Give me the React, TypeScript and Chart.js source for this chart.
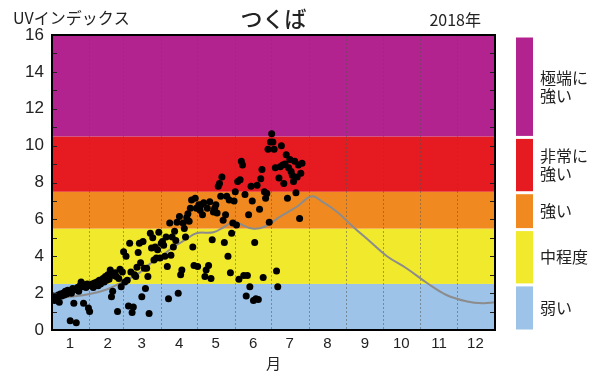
import React, { useEffect, useRef } from 'react';
import { Chart, registerables } from 'chart.js';

Chart.register(...registerables);

const monthLabels = ['1', '2', '3', '4', '5', '6', '7', '8', '9', '10', '11', '12'];
const monthStartDays = [0, 31, 59, 90, 120, 151, 181, 212, 243, 273, 304, 334];

const dotDay = [
  0, 1, 2, 3, 4, 5, 6, 7, 8, 9, 10, 11, 12, 13, 14, 15, 16, 17, 18, 19, 20, 21, 22, 23, 24, 25, 26, 27, 28, 29, 30,
  31, 32, 33, 34, 35, 36, 37, 38, 39, 40, 41, 42, 43, 44, 45, 46, 47, 48, 49, 50, 51, 52, 53, 54, 55, 56, 57, 58,
  59, 60, 61, 62, 63, 64, 65, 66, 67, 68, 69, 70, 71, 72, 73, 74, 75, 76, 77, 78, 79, 80, 81, 82, 83, 84, 85, 86, 87, 88, 89,
  90, 91, 92, 93, 94, 95, 96, 97, 98, 99, 100, 101, 102, 103, 104, 105, 106, 107, 108, 109, 110, 111, 112, 113, 114, 115, 116, 117, 118, 119,
  120, 121, 122, 123, 124, 125, 126, 127, 128, 129, 130, 131, 132, 133, 134, 135, 136, 137, 138, 139, 140, 141, 142, 143, 144, 145, 146, 147, 148, 149, 150,
  151, 152, 153, 154, 155, 156, 157, 158, 159, 160, 161, 162, 163, 164, 165, 166, 167, 168, 169, 170, 171, 172, 173, 174, 175, 176, 177, 178, 179, 180,
  181, 182, 183, 184, 185, 186, 187, 188, 189, 190, 191, 192, 193, 194, 195, 196, 197, 198, 199, 200, 201, 202, 203, 204, 205, 206,
];
const dotUV = [
  1.7, 1.85, 1.6, 1.8, 1.75, 1.9, 1.5, 1.95, 1.85, 2.0, 1.9, 2.1, 1.95, 2.15, 2.05, 0.5, 2.0, 2.25, 1.45, 2.2, 0.4, 2.3, 2.1, 2.4, 2.6, 2.35, 1.45, 2.45, 2.3, 2.5, 1.2,
  1.0, 2.4, 2.5, 2.3, 2.55, 2.45, 2.6, 2.4, 2.7, 2.5, 2.65, 2.8, 2.6, 2.9, 2.7, 3.0, 2.75, 3.25, 1.8, 2.1, 2.95, 3.1, 2.9, 1.0, 2.8, 3.3, 2.35, 3.15,
  4.25, 2.6, 4.0, 2.7, 1.3, 4.7, 3.15, 0.95, 1.25, 3.0, 2.9, 3.4, 4.2, 4.7, 3.65, 1.8, 4.8, 3.35, 2.25, 3.35, 2.9, 0.9, 5.25, 4.45, 5.0, 3.8, 4.5, 3.9, 4.35, 5.3, 3.9,
  4.7, 4.8, 4.6, 4.0, 5.05, 3.45, 1.7, 5.8, 4.05, 5.05, 4.5, 5.35, 4.85, 5.85, 2.0, 6.15, 3.0, 3.25, 5.8, 5.5, 5.05, 6.1, 6.3, 5.9, 6.6, 7.05, 4.5, 3.5, 7.15, 6.6,
  3.45, 6.8, 6.5, 6.8, 6.25, 6.9, 2.9, 3.25, 6.6, 3.5, 6.95, 2.8, 4.9, 6.4, 6.6, 6.8, 6.35, 7.8, 7.95, 7.25, 8.3, 5.95, 4.75, 6.25, 7.25, 4.0, 7.05, 3.1, 5.25, 5.8, 7.0,
  7.5, 5.7, 8.05, 2.75, 8.15, 9.15, 8.95, 2.95, 7.35, 1.85, 2.95, 6.25, 2.35, 7.8, 7.0, 1.6, 4.75, 1.7, 7.85, 1.65, 6.55, 8.2, 8.7, 2.85, 7.5, 7.15, 7.4, 9.8, 5.85, 10.2,
  10.65, 10.2, 9.8, 8.8, 3.2, 2.35, 8.25, 8.85, 10.0, 8.95, 7.95, 9.0, 9.5, 7.15, 8.8, 9.25, 8.6, 8.4, 8.05, 9.15, 7.45, 8.3, 8.95, 6.05, 8.5, 9.05,
];

const meanDay = [0, 15, 31, 45, 58, 72, 81, 90, 100, 110, 119, 133, 142, 149, 153, 165, 175, 188, 202, 214, 223, 235, 248, 262, 276, 292, 309, 325, 342, 355, 365];
const meanUV = [1.7, 1.8, 1.95, 2.2, 2.6, 3.1, 3.6, 4.0, 4.5, 4.9, 5.25, 5.3, 5.6, 5.85, 5.8, 5.5, 5.6, 6.15, 6.7, 7.25, 6.95, 6.4, 5.6, 4.8, 4.0, 3.35, 2.55, 1.9, 1.55, 1.45, 1.5];

const bandEdges = [0, 2.5, 5.5, 7.5, 10.5, 16];
const bandColors = ['#9dc3e8', '#f0e92c', '#f08a20', '#e51b21', '#b3238f'];
const bandLabels = [['弱い'], ['中程度'], ['強い'], ['非常に', '強い'], ['極端に', '強い']];

const titleLeft = 'UVインデックス';
const titleCenter = 'つくば';
const titleRight = '2018年';
const xAxisTitle = '月';

const JP = "'Noto Sans CJK JP', 'Noto Sans', sans-serif";
const NUM = "'Liberation Sans', Arial, sans-serif";

const decorPlugin = {
  id: 'decor',
  beforeDraw(chart: any) {
    const { ctx, chartArea, scales } = chart;
    const y = scales.y;
    ctx.save();
    for (let i = 0; i < bandColors.length; i++) {
      const top = y.getPixelForValue(bandEdges[i + 1]);
      const bot = y.getPixelForValue(bandEdges[i]);
      ctx.fillStyle = bandColors[i];
      ctx.fillRect(chartArea.left, top, chartArea.right - chartArea.left, bot - top);
    }
    ctx.restore();
  },
  afterDraw(chart: any) {
    const { ctx, chartArea, scales } = chart;
    const y = scales.y;
    ctx.save();
    ctx.strokeStyle = '#222';
    ctx.lineWidth = 1;
    for (let v = 0; v <= 16; v++) {
      const py = Math.round(y.getPixelForValue(v)) + 0.5;
      ctx.beginPath();
      ctx.moveTo(chartArea.left, py);
      ctx.lineTo(chartArea.left + 5, py);
      ctx.moveTo(chartArea.right, py);
      ctx.lineTo(chartArea.right - 5, py);
      ctx.stroke();
    }
    ctx.strokeStyle = '#000';
    ctx.lineWidth = 2;
    ctx.strokeRect(chartArea.left, chartArea.top, chartArea.right - chartArea.left, chartArea.bottom - chartArea.top);
    const lx = chartArea.right + 21;
    for (let i = 0; i < bandColors.length; i++) {
      const top = y.getPixelForValue(bandEdges[i + 1]) + 2.5;
      const bot = y.getPixelForValue(bandEdges[i]) - 0.5;
      ctx.fillStyle = bandColors[i];
      ctx.fillRect(lx, top, 17, bot - top);
      const lines = bandLabels[i];
      const mid = (top + bot) / 2;
      ctx.fillStyle = '#222';
      ctx.font = `16px ${JP}`;
      ctx.textAlign = 'left';
      ctx.textBaseline = 'middle';
      const lh = 18;
      lines.forEach((t, k) => {
        ctx.fillText(t, lx + 24, mid + (k - (lines.length - 1) / 2) * lh);
      });
    }
    ctx.fillStyle = '#222';
    ctx.textBaseline = 'middle';
    ctx.font = `16px ${JP}`;
    ctx.textAlign = 'left';
    ctx.fillText(titleLeft, 13, 18);
    ctx.font = `500 22px ${JP}`;
    ctx.textAlign = 'center';
    ctx.fillText(titleCenter, (chartArea.left + chartArea.right) / 2, 19);
    ctx.font = `16px ${JP}`;
    ctx.textAlign = 'right';
    ctx.fillText(titleRight, 481, 20);
    ctx.restore();
  },
};

export default function App() {
  const ref = useRef<HTMLCanvasElement>(null);
  useEffect(() => {
    document.body.style.margin = '0';
    const canvas = ref.current;
    if (!canvas) return;
    const dots = dotDay.map((d, i) => ({ x: d, y: dotUV[i] }));
    const mean = meanDay.map((d, i) => ({ x: d, y: meanUV[i] }));
    const chart = new Chart(canvas, {
      type: 'scatter',
      data: {
        datasets: [
          {
            type: 'scatter',
            data: dots,
            backgroundColor: '#000',
            borderWidth: 0,
            pointRadius: 3.5,
          },
          {
            type: 'line',
            data: mean,
            borderColor: '#8c8c8c',
            borderWidth: 2,
            pointRadius: 0,
            tension: 0.4,
            fill: false,
          } as any,
        ],
      },
      options: {
        animation: false,
        responsive: false,
        devicePixelRatio: 1,
        layout: { padding: { top: 35, left: 0, right: 105, bottom: 0 } },
        plugins: { legend: { display: false }, tooltip: { enabled: false }, title: { display: false } },
        scales: {
          x: {
            type: 'linear',
            min: 0,
            max: 365,
            afterBuildTicks: (s: any) => {
              s.ticks = monthStartDays.map((v) => ({ value: v }));
            },
            afterFit: (s: any) => {
              s.height = 49;
            },
            ticks: {
              callback: (_v: any, i: number) => monthLabels[i],
              labelOffset: 18,
              autoSkip: false,
              maxRotation: 0,
              font: { size: 15, family: NUM },
              color: '#222',
              padding: 5,
            },
            grid: { color: 'rgba(80,80,80,0.5)', lineWidth: 1, drawTicks: false },
            border: { display: false, dash: [2, 2] },
            title: { display: true, text: xAxisTitle, font: { size: 15, family: JP }, color: '#222', padding: { top: 0, bottom: 7 } },
          },
          y: {
            min: 0,
            max: 16,
            afterFit: (s: any) => {
              s.width = 52;
            },
            ticks: { stepSize: 2, font: { size: 17, family: NUM }, color: '#222', padding: 8 },
            grid: { display: false, drawTicks: false },
            border: { display: false },
          },
        },
      },
      plugins: [decorPlugin],
    });
    return () => chart.destroy();
  }, []);
  return (
    <div style={{ width: 600, height: 379 }}>
      <canvas ref={ref} width={600} height={379} />
    </div>
  );
}
